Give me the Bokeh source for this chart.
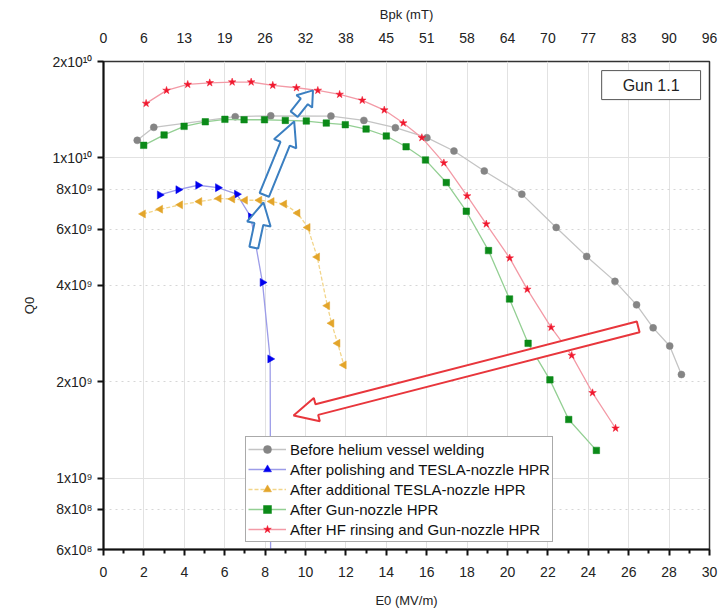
import math
from bokeh.plotting import figure
from bokeh.models import (Range1d, LinearAxis, FixedTicker, Grid, Legend, LegendItem, Label)
from bokeh.embed import file_html
from bokeh.resources import INLINE

# ---------------- data ----------------
e0_before = [1.67, 2.49, 6.52, 8.28, 11.26, 12.89, 14.45, 16.01, 17.35, 18.85, 20.71,
             22.41, 23.92, 25.32, 26.39, 27.21, 28.03, 28.61]
q0_before = [1.135e10, 1.246e10, 1.345e10, 1.354e10, 1.351e10, 1.31e10, 1.243e10, 1.157e10,
             1.051e10, 9.11e9, 7.71e9, 6.07e9, 4.93e9, 4.12e9, 3.48e9, 2.95e9, 2.59e9, 2.11e9]

e0_polish = [2.78, 3.70, 4.68, 5.66, 6.60, 7.29, 7.87, 8.25, 8.28]
q0_polish = [7.67e9, 7.96e9, 8.22e9, 8.08e9, 7.71e9, 6.55e9, 4.09e9, 2.36e9, 4.0e8]

e0_tesla = [1.96, 2.81, 3.80, 4.75, 5.71, 6.38, 7.01, 7.72, 8.33, 8.95, 9.61, 10.11,
            10.58, 11.08, 11.29, 11.59, 11.90]
q0_tesla = [6.69e9, 6.92e9, 7.14e9, 7.31e9, 7.47e9, 7.45e9, 7.38e9, 7.38e9, 7.31e9, 7.18e9,
            6.73e9, 6.07e9, 4.91e9, 3.46e9, 3.05e9, 2.64e9, 2.26e9]

e0_gun = [1.99, 3.0, 3.99, 5.04, 6.01, 6.96, 7.97, 9.0, 10.04, 11.03, 11.97, 13.0, 14.0,
          14.98, 15.94, 16.97, 17.96, 19.06, 20.1, 21.02, 22.1, 23.03, 24.4]
q0_gun = [1.095e10, 1.18e10, 1.255e10, 1.297e10, 1.32e10, 1.316e10, 1.316e10, 1.31e10,
          1.304e10, 1.285e10, 1.27e10, 1.231e10, 1.171e10, 1.084e10, 9.86e9, 8.38e9, 6.82e9,
          5.14e9, 3.63e9, 2.64e9, 2.03e9, 1.527e9, 1.223e9]

e0_hf = [2.11, 3.12, 4.17, 5.26, 6.37, 7.31, 8.38, 9.55, 10.61, 11.69, 12.81, 13.90, 14.84,
         15.76, 16.85, 18.0, 18.95, 20.11, 20.98, 22.16, 23.18, 24.21, 25.35]
q0_hf = [1.48e10, 1.625e10, 1.696e10, 1.716e10, 1.725e10, 1.725e10, 1.685e10, 1.656e10,
         1.625e10, 1.579e10, 1.513e10, 1.411e10, 1.285e10, 1.157e10, 9.65e9, 7.61e9, 6.22e9,
         4.87e9, 3.89e9, 2.96e9, 2.42e9, 1.85e9, 1.434e9]

series_labels = ["Before helium vessel welding",
                 "After polishing and TESLA-nozzle HPR",
                 "After additional TESLA-nozzle HPR",
                 "After Gun-nozzle HPR",
                 "After HF rinsing and Gun-nozzle HPR"]

x_ticks = list(range(0, 31, 2))
bpk_labels = ["0", "6", "13", "19", "26", "32", "38", "45", "51", "58", "64", "70", "77",
              "83", "90", "96"]
y_ticks = [2e10, 1e10, 8e9, 6e9, 4e9, 2e9, 1e9, 8e8, 6e8]
y_tick_labels = ["2x10\u00b9\u2070", "1x10\u00b9\u2070", "8x10\u2079", "6x10\u2079", "4x10\u2079",
                 "2x10\u2079", "1x10\u2079", "8x10\u2078", "6x10\u2078"]

# annotation arrows (tail -> tip, in data coordinates)
arrow_tail_e0 = [7.44, 7.96, 9.44]
arrow_tail_q0 = [5.25e9, 7.67e9, 1.37e10]
arrow_tip_e0 = [7.92, 9.44, 10.37]
arrow_tip_q0 = [7.26e9, 1.30e10, 1.625e10]
red_arrow_tail = (26.47, 2.97e9)
red_arrow_tip = (9.41, 1.571e9)

# ---------------- figure ----------------
FW, FH = 606, 488
X0, X1 = 0, 30
Y0, Y1 = 6e8, 2e10
FONT = "Liberation Sans"

p = figure(frame_width=FW, frame_height=FH, x_range=Range1d(X0, X1), y_range=Range1d(Y0, Y1),
           y_axis_type="log", output_backend="svg", toolbar_location=None,
           min_border_left=103, min_border_right=16, min_border_top=61, min_border_bottom=64,
           background_fill_color="white", border_fill_color="white")
p.outline_line_color = "#333333"
p.outline_line_width = 1.5

# axes
xa = p.xaxis[0]
xa.ticker = FixedTicker(ticks=x_ticks, minor_ticks=list(range(1, 30, 2)))
ya = p.yaxis[0]
ya.ticker = FixedTicker(ticks=y_ticks)
ya.major_label_overrides = {t: l for t, l in zip(y_ticks, y_tick_labels)}
for ax in (xa, ya):
    ax.axis_line_width = 2
    ax.axis_line_color = "#111111"
    ax.major_tick_in = 0
    ax.major_tick_out = 6
    ax.minor_tick_in = 0
    ax.minor_tick_out = 4
    ax.major_tick_line_width = 2
    ax.minor_tick_line_width = 2
    ax.major_tick_line_color = "#111111"
    ax.minor_tick_line_color = "#111111"
    ax.major_label_text_font = FONT
    ax.major_label_text_font_size = "14px"
    ax.major_label_text_color = "#222222"
    ax.axis_label_text_font = FONT
    ax.axis_label_text_font_size = "13px"
    ax.axis_label_text_font_style = "normal"
    ax.axis_label_text_color = "#222222"
ya.minor_tick_line_color = None
xa.axis_label = "E0 (MV/m)"
ya.axis_label = "Q0"
xa.major_label_standoff = 11
xa.axis_label_standoff = 13
ya.major_label_standoff = 5
ya.axis_label_standoff = 12

top = LinearAxis(ticker=FixedTicker(ticks=x_ticks),
                 major_label_overrides={t: l for t, l in zip(x_ticks, bpk_labels)},
                 axis_label="Bpk (mT)")
top.axis_line_color = None
top.major_tick_line_color = None
top.minor_tick_line_color = None
top.major_label_text_font = FONT
top.major_label_text_font_size = "14px"
top.major_label_text_color = "#222222"
top.major_label_standoff = 13
top.axis_label_text_font = FONT
top.axis_label_text_font_size = "13px"
top.axis_label_text_font_style = "normal"
top.axis_label_text_color = "#222222"
top.axis_label_standoff = 8
p.add_layout(top, "above")

# grids
p.xgrid.ticker = FixedTicker(ticks=x_ticks)
p.xgrid.grid_line_color = "#e2e2e2"
p.ygrid.ticker = FixedTicker(ticks=[1e9, 1e10])
p.ygrid.grid_line_color = "#e2e2e2"
g2 = Grid(dimension=1, ticker=FixedTicker(ticks=[8e8, 2e9, 4e9, 6e9, 8e9]),
          grid_line_color="#d6d6d6", grid_line_dash="dotted")
p.add_layout(g2)

# series
styles = [
    dict(line="#c4c4c4", mk="#858585", marker="circle", size=7, angle=0, dash="solid"),
    dict(line="#9c9ce8", mk="#0000ee", marker="triangle", size=8, angle=-math.pi / 2, dash="solid"),
    dict(line="#f2d58a", mk="#e3a52a", marker="triangle", size=8, angle=math.pi / 2, dash="4 2"),
    dict(line="#93cf93", mk="#0b8a18", marker="square", size=6.5, angle=0, dash="solid"),
    dict(line="#f39aa6", mk="#f0182e", marker="star", size=8, angle=0, dash="solid"),
]
data = [(e0_before, q0_before), (e0_polish, q0_polish), (e0_tesla, q0_tesla),
        (e0_gun, q0_gun), (e0_hf, q0_hf)]
items = []
for (xs, ys), st, lab in zip(data, styles, series_labels):
    lr = p.line(xs, ys, line_color=st["line"], line_width=1.3, line_dash=st["dash"])
    sr = p.scatter(xs, ys, marker=st["marker"], size=st["size"], angle=st["angle"],
                   fill_color=st["mk"], line_color=st["mk"], line_width=0.5)
    items.append(LegendItem(label=lab, renderers=[lr, sr]))


# hollow block arrows (geometry built in pixel space, mapped back to data)
def to_px(x, y):
    return ((x - X0) / (X1 - X0) * FW,
            (math.log10(y) - math.log10(Y0)) / (math.log10(Y1) - math.log10(Y0)) * FH)


def to_data(px, py):
    return (X0 + px / FW * (X1 - X0),
            10 ** (math.log10(Y0) + py / FH * (math.log10(Y1) - math.log10(Y0))))


def block_arrow(tail, tip, sw, hw, hl):
    tx, ty = to_px(*tail)
    hx, hy = to_px(*tip)
    L = math.hypot(hx - tx, hy - ty)
    ux, uy = (hx - tx) / L, (hy - ty) / L
    nx, ny = -uy, ux
    bx, by = hx - ux * hl, hy - uy * hl
    pts = [(tx + nx * sw / 2, ty + ny * sw / 2), (bx + nx * sw / 2, by + ny * sw / 2),
           (bx + nx * hw / 2, by + ny * hw / 2), (hx, hy),
           (bx - nx * hw / 2, by - ny * hw / 2), (bx - nx * sw / 2, by - ny * sw / 2),
           (tx - nx * sw / 2, ty - ny * sw / 2)]
    d = [to_data(a, b) for a, b in pts]
    return [q[0] for q in d], [q[1] for q in d]


blue_geom = [(9, 24, 22), (10, 24, 24), (9, 20, 14)]
for i in range(3):
    sw, hw, hl = blue_geom[i]
    ax_, ay_ = block_arrow((arrow_tail_e0[i], arrow_tail_q0[i]),
                           (arrow_tip_e0[i], arrow_tip_q0[i]), sw, hw, hl)
    p.patch(ax_, ay_, fill_color="white", line_color="#3b7fc1", line_width=2)

rx, ry = block_arrow(red_arrow_tail, red_arrow_tip, 11, 24, 24)
p.patch(rx, ry, fill_color="white", line_color="#e8363c", line_width=2)

legend = Legend(items=items, location=(142, 7))
legend.label_text_font = FONT
legend.label_text_font_size = "15px"
legend.label_text_color = "#111111"
legend.label_height = 20
legend.glyph_height = 20
legend.glyph_width = 38
legend.label_standoff = 4
legend.spacing = 0
legend.padding = 2
legend.margin = 0
legend.border_line_color = "#555555"
legend.border_line_width = 1
legend.background_fill_alpha = 1
p.add_layout(legend, "center")

gun = Label(x=27.11, y=1.688e10, text="Gun 1.1", text_align="center", text_baseline="middle",
            text_font=FONT, text_font_size="16px", text_color="#222222",
            border_line_color="#555555", border_line_width=1, background_fill_color="white",
            padding=(21, 6))
p.add_layout(gun)

open("out.html", "w").write(file_html(p, INLINE))
